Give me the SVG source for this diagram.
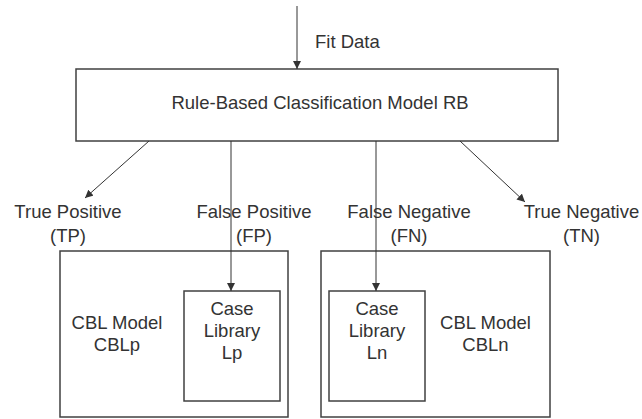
<svg xmlns="http://www.w3.org/2000/svg" width="642" height="419" viewBox="0 0 642 419">
<style>
  .box { fill: #ffffff; stroke: #404040; stroke-width: 1.5; }
  .conn { stroke: #333333; stroke-width: 1; fill: none; }
  text { font-family: "Liberation Sans", Arial, sans-serif; font-size: 18.5px; fill: #333333; }
  .mid { text-anchor: middle; }
</style>
<defs>
  <marker id="arrow" viewBox="0 0 10 10" refX="10" refY="5" markerWidth="8" markerHeight="8" markerUnits="userSpaceOnUse" orient="auto">
    <path d="M0,0 L10,5 L0,10 z" fill="#333333"/>
  </marker>
</defs>
<rect width="642" height="419" fill="#ffffff"/>

<g id="rb">
  <rect class="box" x="76" y="69" width="482" height="72"/>
  <text class="mid" x="320" y="109">Rule-Based Classification Model RB</text>
</g>

<g id="cblp">
  <rect class="box" x="60" y="251" width="228" height="166"/>
  <text class="mid" x="117" y="329">CBL Model</text>
  <text class="mid" x="117" y="351">CBLp</text>
</g>

<g id="lp">
  <rect class="box" x="184" y="291" width="96" height="110"/>
  <text class="mid" x="232" y="315">Case</text>
  <text class="mid" x="232" y="337">Library</text>
  <text class="mid" x="232" y="359">Lp</text>
</g>

<g id="cbln">
  <rect class="box" x="321" y="251" width="229" height="166"/>
  <text class="mid" x="485.5" y="329">CBL Model</text>
  <text class="mid" x="485.5" y="351">CBLn</text>
</g>

<g id="ln">
  <rect class="box" x="329" y="291" width="96" height="110"/>
  <text class="mid" x="377" y="315">Case</text>
  <text class="mid" x="377" y="337">Library</text>
  <text class="mid" x="377" y="359">Ln</text>
</g>

<g id="tp">
  <text class="mid" x="68" y="218">True Positive</text>
  <text class="mid" x="68" y="242">(TP)</text>
</g>
<g id="fp">
  <text class="mid" x="254" y="218">False Positive</text>
  <text class="mid" x="254" y="242">(FP)</text>
</g>
<g id="fn">
  <text class="mid" x="409" y="218">False Negative</text>
  <text class="mid" x="409" y="242">(FN)</text>
</g>
<g id="tn">
  <text class="mid" x="581.5" y="218">True Negative</text>
  <text class="mid" x="581.5" y="242">(TN)</text>
</g>

<g id="connectors">
  <line class="conn" x1="297" y1="6" x2="297" y2="69" marker-end="url(#arrow)"/>
  <text x="315" y="48">Fit Data</text>
  <line class="conn" x1="149" y1="141" x2="85" y2="198" marker-end="url(#arrow)"/>
  <line class="conn" x1="231" y1="141" x2="231" y2="291" marker-end="url(#arrow)"/>
  <line class="conn" x1="376" y1="141" x2="376" y2="291" marker-end="url(#arrow)"/>
  <line class="conn" x1="460" y1="141" x2="525" y2="202" marker-end="url(#arrow)"/>
</g>
</svg>
